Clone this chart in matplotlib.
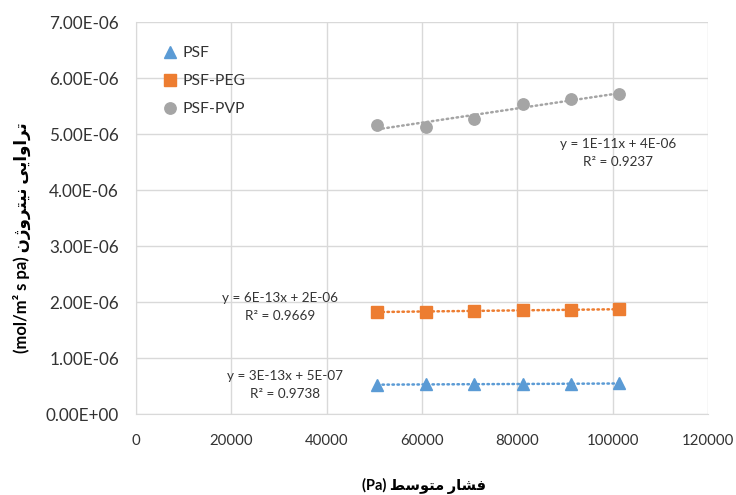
import numpy as np
import matplotlib
import matplotlib.pyplot as plt
matplotlib.use('Agg')

# mean pressure (Pa) and nitrogen permeance for each membrane
pressure = [50662.5, 60795, 70927.5, 81060, 91192.5, 101325]
psf = [0.530e-6, 0.535e-6, 0.537e-6, 0.540e-6, 0.545e-6, 0.553e-6]
psf_peg = [1.830e-6, 1.830e-6, 1.845e-6, 1.862e-6, 1.868e-6, 1.874e-6]
psf_pvp = [5.166e-6, 5.136e-6, 5.273e-6, 5.546e-6, 5.625e-6, 5.720e-6]

names = ['PSF', 'PSF-PEG', 'PSF-PVP']
trend_text = ['y = 3E-13x + 5E-07\nR² = 0.9738',
              'y = 6E-13x + 2E-06\nR² = 0.9669',
              'y = 1E-11x + 4E-06\nR² = 0.9237']

x_ticks = [0, 20000, 40000, 60000, 80000, 100000, 120000]
y_ticks = [0, 1e-6, 2e-6, 3e-6, 4e-6, 5e-6, 6e-6, 7e-6]

colors = ['#5B9BD5', '#ED7D31', '#A5A5A5']
markers = ['^', 's', 'o']
msizes = [8.5, 8.5, 8.2]
# where the trendline equations sit (data coords)
label_pos = [(31300, 0.53e-6), (30200, 1.92e-6), (101000, 4.67e-6)]

latin = ['Lato', 'DejaVu Sans']
text_col = '#333333'

# persian labels written out in shaped, left-to-right visual order
x_label = '(Pa) \uFEC2\uFEB3\uFEEE\uFE98\uFEE3 \uFEAD\uFE8E\uFEB8\uFED3'
y_label = ('(mol/m² s pa) \uFEE5\uFB8A\uFEED\uFEAE\uFE98\uFEF4\uFEE7 '
           '\uFEF0\uFEF3\uFE8D\uFEED\uFE8D\uFEAE\uFE97')

fig = plt.figure(figsize=(7.36, 4.95), dpi=100)
ax = fig.add_axes([0.1844, 0.163, 0.778, 0.792])

for values, name, col, mk, ms, txt, pos in zip([psf, psf_peg, psf_pvp], names, colors,
                                               markers, msizes, trend_text, label_pos):
    x = np.array(pressure)
    y = np.array(values)
    # linear trendline over the measured range
    k, b = np.polyfit(x, y, 1)
    xs = np.array([x.min(), x.max()])
    ax.plot(xs, k * xs + b, color=col, lw=1.8, ls=(0, (0.6, 1.4)),
            dash_capstyle='round', zorder=2)
    ax.plot(x, y, ls='none', marker=mk, ms=ms, color=col, mec=col,
            label=name, zorder=3)
    ax.text(pos[0], pos[1], txt, ha='center', va='center', fontsize=9.7,
            family=latin, color=text_col, linespacing=1.6)

ax.set_xlim(0, 120000)
ax.set_ylim(0, 7e-6)
ax.set_xticks(x_ticks)
ax.set_yticks(y_ticks)
ax.set_xticklabels([f'{t}' for t in x_ticks], family=latin, fontsize=10.8, color=text_col)
ax.set_yticklabels([f'{t:.2E}' for t in y_ticks], family=latin, fontsize=12.3, color=text_col)
ax.tick_params(axis='y', length=0, pad=12)
ax.tick_params(axis='x', length=0, pad=14)

ax.grid(True, color='#D9D9D9', lw=1)
ax.set_axisbelow(True)
for side in ['top', 'right']:
    ax.spines[side].set_visible(False)
for side in ['left', 'bottom']:
    ax.spines[side].set_color('#D9D9D9')

leg = ax.legend(loc='upper left', bbox_to_anchor=(0.022, 0.975), frameon=False,
                handlelength=1.0, handletextpad=0.25, labelspacing=0.9,
                prop={'family': latin, 'size': 11.3})
for t in leg.get_texts():
    t.set_color(text_col)

fig.text(0.576, 0.018, x_label, ha='center', va='center', fontsize=10.5,
         fontweight='bold', family=latin)
fig.text(0.030, 0.52, y_label, ha='center', va='center', rotation=90,
         fontsize=12, fontweight='bold', family=latin)

fig.savefig('out.png', dpi=100)
